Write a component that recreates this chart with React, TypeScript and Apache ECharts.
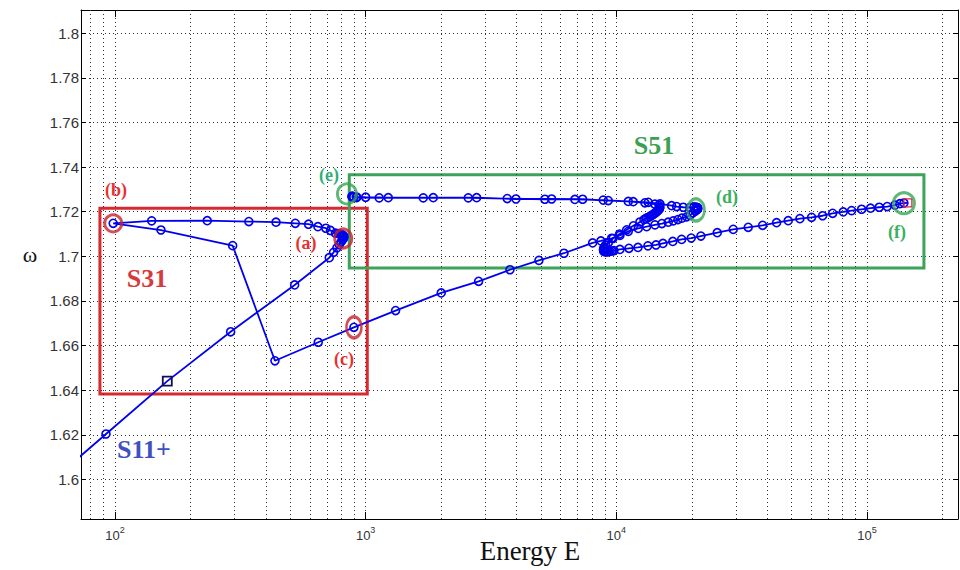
import React, { useEffect, useRef } from 'react';
import * as echarts from 'echarts';

// Axis extents
const X_MIN = 73.2;
const X_MAX = 230700;
const Y_MIN = 1.5823;
const Y_MAX = 1.8104;

// Minor (dotted) vertical grid values on the log axis
const xMinorGrid = [
  80, 90, 200, 300, 400, 500, 600, 700, 800, 900,
  2000, 3000, 4000, 5000, 6000, 7000, 8000, 9000,
  20000, 30000, 40000, 50000, 60000, 70000, 80000, 90000, 200000,
];

// Branch S11+ up to fold (a)
const s11Branch = [
  [65, 1.6057], [92.1, 1.6204], [161.7, 1.6441], [289.4, 1.6662], [521, 1.6872],
  [716, 1.6994], [745, 1.7018], [768, 1.7038], [785, 1.7052], [798, 1.7064],
  [808, 1.7073], [815, 1.708], [819, 1.7086],
];
// Upper S31 branch from (a) back to (b)
const s31Upper = [
  [818, 1.7091], [812, 1.7094], [803, 1.7097], [792, 1.71], [778, 1.7102],
  [758, 1.7104], [724, 1.7116], [694, 1.7126], [645, 1.7133], [592, 1.7144],
  [524, 1.7148], [439, 1.7153], [342, 1.7156], [233.4, 1.716], [140.1, 1.7159],
  [98.4, 1.7148],
];
// Lower S31 branch from (b) to (c)
const s31Lower = [
  [152.6, 1.7118], [294.8, 1.7048], [434.7, 1.6532], [647, 1.6615], [898, 1.6682],
];
// Backbone rising from (c)
const risingBranch = [
  [1317, 1.6757], [2002, 1.6836], [2823, 1.6888], [3764, 1.694], [4913, 1.6982],
  [6180, 1.7014], [8045, 1.706],
];
// S51 middle branch up to fold (d)
const s51Middle = [
  [8680, 1.7069], [9579, 1.7081], [10336, 1.7094], [11160, 1.7112], [12230, 1.7125],
  [13210, 1.7133], [14260, 1.7141], [15200, 1.7147], [16110, 1.7153], [16870, 1.7159],
  [17610, 1.7165], [18270, 1.7171], [19080, 1.7177], [19660, 1.7184], [20210, 1.7195],
  [20680, 1.7203], [20970, 1.7208], [21100, 1.7212], [21150, 1.7216], [21050, 1.7219],
  [20800, 1.7221], [20400, 1.7222],
];
// S51 top branch from (d) to fold (e)
const s51TopLeft = [
  [19660, 1.7219], [18490, 1.722], [17400, 1.7223], [16620, 1.7227], [14930, 1.7235],
  [13410, 1.7242], [11680, 1.7245], [9284, 1.725], [7338, 1.7256], [5520, 1.7257],
  [3977, 1.7257], [2772, 1.7263], [1861, 1.7263], [1231, 1.7263], [1000, 1.7265],
  [920, 1.7266], [893, 1.7268], [884, 1.727], [882, 1.7268], [886, 1.7266],
  [895, 1.7264], [920, 1.7263],
];
// S51 top branch from (e) back to the right
const s51TopRight = [
  [1133, 1.7262], [1698, 1.7262], [2567, 1.7262], [3671, 1.7259], [5190, 1.7256],
  [6835, 1.7255], [8867, 1.7252], [11160, 1.7246], [13000, 1.724], [14260, 1.7234],
];
// S51 descending S-curve to the lower fold
const s51Down = [
  [14800, 1.7228], [14930, 1.7221], [14880, 1.7215], [14790, 1.721], [14660, 1.7205],
  [14520, 1.7201], [14360, 1.7196], [14190, 1.7192], [14000, 1.7187], [13800, 1.7183],
  [13600, 1.7178], [13370, 1.7174], [13130, 1.717], [12890, 1.7165], [12420, 1.7154],
  [11700, 1.7137], [11000, 1.7119], [10300, 1.71], [9692, 1.708], [9300, 1.7062],
  [9060, 1.705], [8965, 1.7042], [8910, 1.7036], [8883, 1.7031], [8900, 1.7026],
  [8924, 1.7022], [9040, 1.702], [9173, 1.702], [9300, 1.7021], [9430, 1.7022],
  [9600, 1.7024], [9781, 1.7026],
];
// S51 lower branch to (f)
const s51Lower = [
  [10336, 1.7031], [11228, 1.7036], [12200, 1.704], [13370, 1.7047], [14400, 1.7051],
  [15346, 1.7058], [16800, 1.7067], [18220, 1.7076], [19900, 1.7082], [21750, 1.7091],
  [25270, 1.7106], [29270, 1.7121], [33590, 1.713], [38340, 1.7139], [43590, 1.7151],
  [48500, 1.716], [54000, 1.7169], [60120, 1.7175], [66520, 1.7182], [72940, 1.7193],
  [80400, 1.7199], [86830, 1.7205], [95170, 1.7211], [103340, 1.7216], [111860, 1.722],
  [120370, 1.7223], [129260, 1.723], [135290, 1.7236], [140360, 1.7239], [145600, 1.724],
];

const startSquare = [161.7, 1.6441];
const endSquare = [145600, 1.724];

// Annotation boxes (data coordinates)
const boxS31 = [[87.1, 1.7216], [1015, 1.6383]];
const boxS51 = [[860.5, 1.7366], [168700, 1.6948]];

// Annotation rings: [E, omega, width, height]
const redRings = [
  [814, 1.708, 17, 19],
  [98.4, 1.7148, 17, 17],
  [898, 1.6682, 15, 21],
];
const greenRings = [
  [20780, 1.7208, 17, 22],
  [842, 1.728, 19, 20],
  [140400, 1.7238, 21, 21],
];

const BLUE = '#0000f0';

export default function App() {
  const ref = useRef<HTMLDivElement>(null);
  useEffect(() => {
    if (!ref.current) return;
    const chart = echarts.init(ref.current, null, { renderer: 'svg' });
    const path = [
      ...s11Branch, ...s31Upper, ...s31Lower, ...risingBranch, ...s51Middle,
      ...s51TopLeft, ...s51TopRight, ...s51Down, ...s51Lower,
    ];
    const pathData = path.map((p) => {
      if (p[0] === startSquare[0] && p[1] === startSquare[1]) {
        return {
          value: p, symbol: 'rect', symbolSize: 9,
          itemStyle: { color: 'rgba(0,0,0,0)', borderColor: '#101050', borderWidth: 1.8 },
        };
      }
      if (p[0] === endSquare[0] && p[1] === endSquare[1]) {
        return {
          value: p, symbol: 'rect', symbolSize: 8,
          itemStyle: { color: 'rgba(0,0,0,0)', borderColor: '#e02040', borderWidth: 1.3 },
        };
      }
      return { value: p };
    });
    const grid = { type: [1, 3], color: '#333', width: 1 };
    const serifBold = { fontFamily: 'Liberation Serif', fontWeight: 'bold' as const };
    const label = (text: string, x: number, y: number, size: number, color: string) => ({
      type: 'text', x, y, z: 100,
      style: { text, fill: color, fontSize: size, ...serifBold, align: 'center', verticalAlign: 'middle' },
    });
    const xFormatter = (v: number) => {
      const e = Math.log10(v);
      const r = Math.round(e);
      return Math.abs(e - r) < 1e-6 ? `{b|10}{s|${r}}` : '';
    };
    const yFormatter = (v: number) => {
      const k = v * 50;
      return Math.abs(k - Math.round(k)) < 1e-6 ? String(Number(v.toFixed(2))) : '';
    };
    chart.setOption({
      animation: false,
      backgroundColor: '#fff',
      grid: { left: 81, right: 2, top: 10, bottom: 51, show: false, outerBoundsMode: 'none', containLabel: false },
      xAxis: [
        {
          type: 'log', min: X_MIN, max: X_MAX, logBase: 10,
          name: 'Energy E', nameLocation: 'middle', nameGap: 18, nameMoveOverlap: false,
          nameTextStyle: { fontFamily: 'Liberation Serif', fontSize: 27, color: '#111', padding: [0, 0, 0, 21] },
          axisLine: { onZero: false, lineStyle: { color: '#000', width: 1 } },
          axisTick: { inside: true, length: 7, lineStyle: { color: '#000' } },
          axisLabel: {
            formatter: xFormatter, margin: 6,
            rich: {
              b: { fontFamily: 'Liberation Sans', fontSize: 13, color: '#333', lineHeight: 20 },
              s: { fontFamily: 'Liberation Sans', fontSize: 9, color: '#333', lineHeight: 10, verticalAlign: 'top' },
            },
          },
          splitLine: { show: true, lineStyle: grid },
        },
        {
          type: 'log', min: X_MIN, max: X_MAX, logBase: 10, position: 'top',
          axisLine: { onZero: false, lineStyle: { color: '#000', width: 1 } },
          axisTick: { inside: true, length: 7, lineStyle: { color: '#000' } },
          axisLabel: { show: false },
          splitLine: { show: false },
        },
      ],
      yAxis: [
        {
          type: 'value', min: Y_MIN, max: Y_MAX, splitNumber: 11,
          axisLine: { onZero: false, lineStyle: { color: '#000', width: 1 } },
          axisTick: { inside: true, length: 5, lineStyle: { color: '#000' } },
          axisLabel: { formatter: yFormatter, margin: 2, fontFamily: 'Liberation Sans', fontSize: 15, color: '#333' },
          splitLine: { show: true, lineStyle: grid },
        },
        {
          type: 'value', min: Y_MIN, max: Y_MAX, splitNumber: 11, position: 'right',
          axisLine: { onZero: false, lineStyle: { color: '#000', width: 1 } },
          axisTick: { inside: true, length: 5, lineStyle: { color: '#000' } },
          axisLabel: { show: false },
          splitLine: { show: false },
        },
      ],
      series: [
        {
          name: 'minor-grid', type: 'line', data: [], z: 1, silent: true,
          markLine: {
            silent: true, symbol: ['none', 'none'], label: { show: false },
            lineStyle: grid, emphasis: { disabled: true },
            data: xMinorGrid.map((v) => ({ xAxis: v })),
          },
        },
        {
          name: 'branch', type: 'line', data: pathData, z: 3,
          showAllSymbol: true, symbol: 'circle', symbolSize: 8,
          itemStyle: { color: 'rgba(0,0,0,0)', borderColor: BLUE, borderWidth: 1.6 },
          lineStyle: { color: BLUE, width: 1.8 },
          emphasis: { disabled: true },
        },
        {
          name: 'boxes', type: 'line', data: [], z: 5, silent: true,
          markArea: {
            silent: true, label: { show: false },
            data: [
              [
                { coord: boxS31[0], itemStyle: { color: 'rgba(0,0,0,0)', borderColor: '#d62a30', borderWidth: 3 } },
                { coord: boxS31[1] },
              ],
              [
                { coord: boxS51[0], itemStyle: { color: 'rgba(0,0,0,0)', borderColor: '#3da35a', borderWidth: 3 } },
                { coord: boxS51[1] },
              ],
            ],
          },
        },
        {
          name: 'red-rings', type: 'scatter', z: 6, silent: true,
          data: redRings.map((r) => ({ value: [r[0], r[1]], symbolSize: [r[2], r[3]] })),
          symbol: 'circle',
          itemStyle: { color: 'rgba(0,0,0,0)', borderColor: '#c8222c', borderWidth: 3 },
        },
        {
          name: 'green-rings', type: 'scatter', z: 6, silent: true,
          data: greenRings.map((r) => ({ value: [r[0], r[1]], symbolSize: [r[2], r[3]] })),
          symbol: 'circle',
          itemStyle: { color: 'rgba(0,0,0,0)', borderColor: '#36a654', borderWidth: 3 },
        },
      ],
      graphic: [
        {
          type: 'text', x: 30, y: 254, z: 100,
          style: { text: 'ω', fill: '#111', fontSize: 22, fontFamily: 'Liberation Serif', align: 'center', verticalAlign: 'middle' },
        },
        label('(b)', 116, 190, 18, '#e83030'),
        label('(a)', 306, 243, 18, '#e83030'),
        label('(c)', 344, 359, 18, '#e83030'),
        label('S31', 147, 278, 26, '#d63a3a'),
        label('(e)', 329, 175, 18, '#2fae7a'),
        label('S51', 654, 145, 26, '#3aa052'),
        label('(d)', 727, 197, 18, '#3bb060'),
        label('(f)', 897, 232, 18, '#3bb060'),
        label('S11+', 144, 449, 26, '#4050c0'),
      ],
    });
    return () => chart.dispose();
  }, []);
  return (
    <div
      ref={ref}
      style={{ position: 'fixed', left: 0, top: 0, width: 960, height: 570, background: '#fff' }}
    />
  );
}
